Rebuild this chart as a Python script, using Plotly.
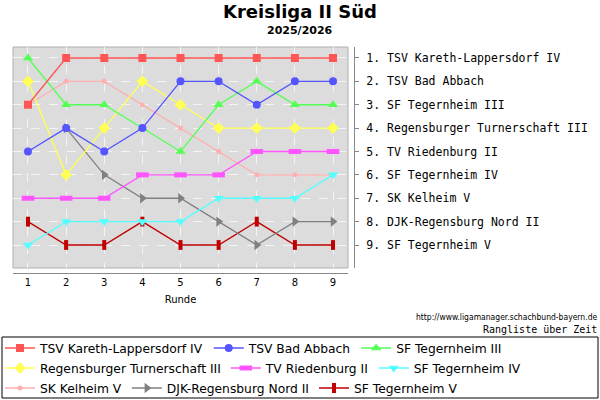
import plotly.graph_objects as go

# rounds and ranking after each round (None = no ranking yet)
rounds = [1, 2, 3, 4, 5, 6, 7, 8, 9]

teams = [
    "TSV Kareth-Lappersdorf IV",
    "TSV Bad Abbach",
    "SF Tegernheim III",
    "Regensburger Turnerschaft III",
    "TV Riedenburg II",
    "SF Tegernheim IV",
    "SK Kelheim V",
    "DJK-Regensburg Nord II",
    "SF Tegernheim V",
]

rank_kareth = [3, 1, 1, 1, 1, 1, 1, 1, 1]
rank_abbach = [5, 4, 5, 4, 2, 2, 3, 2, 2]
rank_teg3 = [1, 3, 3, 4, 5, 3, 2, 3, 3]
rank_rt3 = [2, 6, 4, 2, 3, 4, 4, 4, 4]
rank_riedenburg = [7, 7, 7, 6, 6, 6, 5, 5, 5]
rank_teg4 = [9, 8, 8, 8, 8, 7, 7, 7, 6]
rank_kelheim = [3, 2, 2, 3, 4, 5, 6, 6, 6]
rank_djk = [None, 4, 6, 7, 7, 8, 9, 8, 8]
rank_teg5 = [8, 9, 9, 8, 9, 9, 8, 9, 9]

final_labels = [f"{i + 1}. {t}" for i, t in enumerate(teams)]

all_ranks = [rank_kareth, rank_abbach, rank_teg3, rank_rt3, rank_riedenburg,
             rank_teg4, rank_kelheim, rank_djk, rank_teg5]

# styles: (color, symbol, size, line-symbol width)
styles = [
    ("#ff5555", "square", 8, 0),
    ("#5555ff", "circle", 8, 0),
    ("#55ff55", "triangle-up", 9, 0),
    ("#ffff55", "diamond", 9, 0),
    ("#ff55ff", "line-ew", 9, 5),
    ("#55ffff", "triangle-down", 9, 0),
    ("#ffafaf", "circle", 5, 0),
    ("#808080", "triangle-right", 9, 0),
    ("#c00000", "line-ns", 7, 4),
]
# which legend row each team goes into
legend_rows = ["legend", "legend", "legend",
               "legend2", "legend2", "legend2",
               "legend3", "legend3", "legend3"]

W, H = 600, 400
L, R, T, B = 13, 2, 47, 127
pw = W - L - R   # 585
ph = H - T - B   # 226

def px(x):
    return (x - L) / pw

def py(y):
    return (H - B - y) / ph

fig = go.Figure()

# drawn last-to-first so the higher ranked teams sit on top
order = list(range(len(teams)))[::-1]
for i in order:
    col, sym, size, lw = styles[i]
    if lw:
        marker = dict(symbol=sym, size=size, color=col, line=dict(color=col, width=lw))
    else:
        marker = dict(symbol=sym, size=size, color=col, line=dict(width=0))
    fig.add_trace(go.Scatter(
        x=rounds, y=all_ranks[i], name=teams[i],
        mode="lines+markers",
        line=dict(color=col, width=1.3),
        marker=marker,
        connectgaps=False,
        legend=legend_rows[i],
        legendrank=i + 1,
    ))

# invisible trace for the right ranking axis
fig.add_trace(go.Scatter(x=[None], y=[None], yaxis="y2", showlegend=False, hoverinfo="skip"))

# plot frame
fig.add_shape(type="rect", xref="x domain", yref="y domain", x0=0, x1=1, y0=0, y1=1,
              fillcolor="#dcdcdc", line=dict(color="#b0b0b0", width=1), layer="below")
# legend frame
fig.add_shape(type="rect", xref="paper", yref="paper",
              x0=px(2), x1=px(598), y0=py(398), y1=py(337),
              line=dict(color="black", width=1), fillcolor="rgba(0,0,0,0)")

fig.add_annotation(text="<b>2025/2026</b>", xref="paper", yref="paper",
                   x=px(300), y=py(31), xanchor="center", yanchor="middle", showarrow=False,
                   font=dict(family="DejaVu Sans", size=11, color="black"))
fig.add_annotation(text="http://www.ligamanager.schachbund-bayern.de", xref="paper", yref="paper",
                   x=px(599), y=py(317), xanchor="right", yanchor="middle", showarrow=False,
                   font=dict(family="DejaVu Sans Condensed", size=8.5, color="black"))
fig.add_annotation(text="Rangliste über Zeit", xref="paper", yref="paper",
                   x=px(599), y=py(329), xanchor="right", yanchor="middle", showarrow=False,
                   font=dict(family="DejaVu Sans Mono", size=10, color="black"))

legend_style = dict(
    orientation="h", xref="container", yref="container",
    x=0, xanchor="left", yanchor="middle",
    font=dict(family="DejaVu Sans", size=12.3, color="black"),
    itemwidth=30, bgcolor="rgba(0,0,0,0)", borderwidth=0,
    traceorder="normal",
)

fig.update_layout(
    width=W, height=H,
    margin=dict(l=L, r=R, t=T, b=B, pad=0, autoexpand=False),
    paper_bgcolor="white",
    plot_bgcolor="white",
    title=dict(text="<b>Kreisliga II Süd</b>", x=0.5, xanchor="center",
               y=1 - 12 / H, yanchor="middle",
               font=dict(family="DejaVu Sans", size=18, color="black")),
    xaxis=dict(
        domain=[0, 335 / pw], range=[0.607, 9.393],
        anchor="free", position=0,
        tickvals=rounds, ticktext=[str(r) for r in rounds],
        showgrid=True, gridcolor="#f4f4f4", griddash="dash", gridwidth=1,
        zeroline=False, showline=True, linecolor="#888888", linewidth=1,
        ticks="", tickfont=dict(family="DejaVu Sans", size=10, color="black"),
        title=dict(text="Runde", font=dict(family="DejaVu Sans", size=10, color="black"), standoff=8),
        automargin=False,
    ),
    yaxis=dict(
        domain=[5 / ph, 1], range=[9.984, 0.53],
        tickvals=list(range(1, 10)), showticklabels=False,
        showgrid=True, gridcolor="#f4f4f4", griddash="dash", gridwidth=1,
        zeroline=False, showline=False, ticks="", automargin=False,
    ),
    yaxis2=dict(
        overlaying="y", side="right", anchor="free", position=341 / pw,
        range=[9.984, 0.53],
        tickvals=list(range(1, 10)), ticktext=final_labels,
        showgrid=False, zeroline=False,
        showline=True, linecolor="#888888", linewidth=1,
        ticks="outside", ticklen=4, tickcolor="#888888",
        tickfont=dict(family="DejaVu Sans Mono", size=11.5, color="black"),
        ticklabelstandoff=5, automargin=False,
    ),
    legend=dict(legend_style, y=1 - 348 / H),
    legend2=dict(legend_style, y=1 - 368 / H),
    legend3=dict(legend_style, y=1 - 388 / H),
    showlegend=True,
    hovermode=False,
)

# page has a default 8px body margin; drop it so the figure sits at the window corner
fig.write_html("out.html", config={"displayModeBar": False},
               post_script="document.body.style.margin='0';")
